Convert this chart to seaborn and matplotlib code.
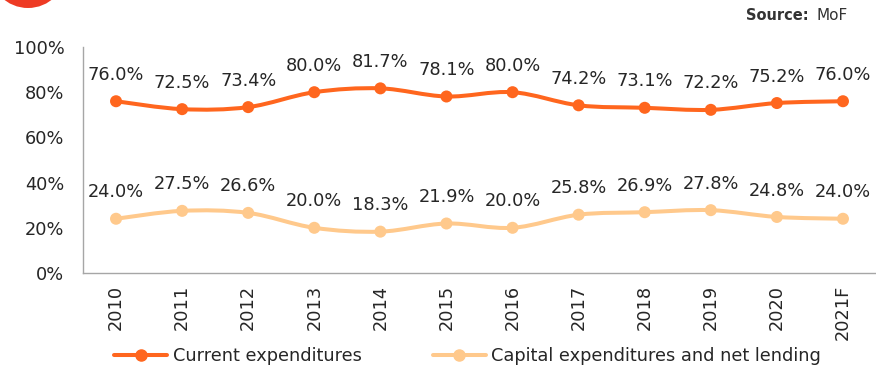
import numpy as np
import pandas as pd
import matplotlib
matplotlib.use("Agg")
import matplotlib.pyplot as plt
import seaborn as sns
from matplotlib.path import Path
from matplotlib.patches import PathPatch, Circle
from matplotlib.lines import Line2D

years = ["2010", "2011", "2012", "2013", "2014", "2015", "2016", "2017", "2018", "2019", "2020", "2021F"]
current_exp = [76.0, 72.5, 73.4, 80.0, 81.7, 78.1, 80.0, 74.2, 73.1, 72.2, 75.2, 76.0]
capital_exp = [24.0, 27.5, 26.6, 20.0, 18.3, 21.9, 20.0, 25.8, 26.9, 27.8, 24.8, 24.0]
series_names = ["Current expenditures", "Capital expenditures and net lending"]
y_ticks = [0, 20, 40, 60, 80, 100]

colors = {series_names[0]: "#FF661E", series_names[1]: "#FFC98C"}
text_color = "#262626"
fs = 12.8

sns.set_theme(style="white")
plt.rcParams["font.family"] = ["DejaVu Sans"]

df = pd.DataFrame({
    "year": years * 2,
    "pos": list(range(len(years))) * 2,
    "value": current_exp + capital_exp,
    "series": [series_names[0]] * len(years) + [series_names[1]] * len(years),
})

fig = plt.figure(figsize=(8.76, 3.67), dpi=100)
ax = fig.add_axes([83 / 876, 1 - 273 / 367, 1 - 83 / 876, (273 - 47) / 367])


def smooth_path(xs, ys, tension=1 / 6):
    """Catmull-Rom style cubic Bezier path through the data points."""
    n = len(xs)
    verts = [(xs[0], ys[0])]
    codes = [Path.MOVETO]
    for i in range(n - 1):
        x0, y0 = (xs[i - 1], ys[i - 1]) if i > 0 else (xs[i], ys[i])
        x1, y1 = xs[i], ys[i]
        x2, y2 = xs[i + 1], ys[i + 1]
        x3, y3 = (xs[i + 2], ys[i + 2]) if i + 2 < n else (x2, y2)
        c1 = (x1 + (x2 - x0) * tension, y1 + (y2 - y0) * tension)
        c2 = (x2 - (x3 - x1) * tension, y2 - (y3 - y1) * tension)
        verts += [c1, c2, (x2, y2)]
        codes += [Path.CURVE4] * 3
    return Path(verts, codes)


for name in series_names:
    sub = df[df["series"] == name]
    ax.add_patch(PathPatch(smooth_path(sub["pos"].tolist(), sub["value"].tolist()),
                           facecolor="none", edgecolor=colors[name], lw=2.9,
                           capstyle="round", joinstyle="round", zorder=2))

sns.scatterplot(data=df, x="pos", y="value", hue="series", palette=colors,
                s=75, edgecolor="none", legend=False, ax=ax, zorder=3)

for name in series_names:
    sub = df[df["series"] == name]
    for p, v in zip(sub["pos"], sub["value"]):
        ax.annotate(f"{v:.1f}%", (p, v), xytext=(0, 19), textcoords="offset points",
                    ha="center", va="center", fontsize=fs, color=text_color)

ax.set_xlim(-0.5, len(years) - 0.5)
ax.set_ylim(0, 100)
ax.set_xticks(range(len(years)))
ax.set_xticklabels(years, rotation=90, fontsize=fs, color=text_color)
ax.set_yticks(y_ticks)
ax.set_yticklabels([f"{t}%" for t in y_ticks], fontsize=fs, color=text_color)
ax.tick_params(axis="both", length=0)
ax.tick_params(axis="y", pad=13.5)
ax.tick_params(axis="x", pad=8.5)
ax.set_xlabel("")
ax.set_ylabel("")
for side in ["top", "right"]:
    ax.spines[side].set_visible(False)
for side in ["left", "bottom"]:
    ax.spines[side].set_color("#A6A6A6")
    ax.spines[side].set_linewidth(1.0)

handles = [Line2D([0], [0], color=colors[n], lw=2.9, marker="o", markersize=8) for n in series_names]
fig.legend(handles, series_names, loc="center", bbox_to_anchor=(467.5 / 876, 1 - 356 / 367), ncol=2,
           frameon=False, fontsize=fs, handlelength=3.0, handletextpad=0.3,
           columnspacing=4.0, labelcolor=text_color, borderpad=0, borderaxespad=0)

# brand badge partially visible at the top-left corner
fig.patches.append(Circle((0.28, 3.67 + 0.305), 0.385, transform=fig.dpi_scale_trans,
                          facecolor="#EE3B24", edgecolor="none"))

fig.text(816 / 876, 1 - 20 / 367, "MoF", ha="left", va="baseline", fontsize=11, color="#333333")
fig.text(809 / 876, 1 - 20 / 367, "Source:", ha="right", va="baseline", fontsize=10.5,
         fontweight="bold", color="#333333")

fig.savefig("out.png", dpi=100)
